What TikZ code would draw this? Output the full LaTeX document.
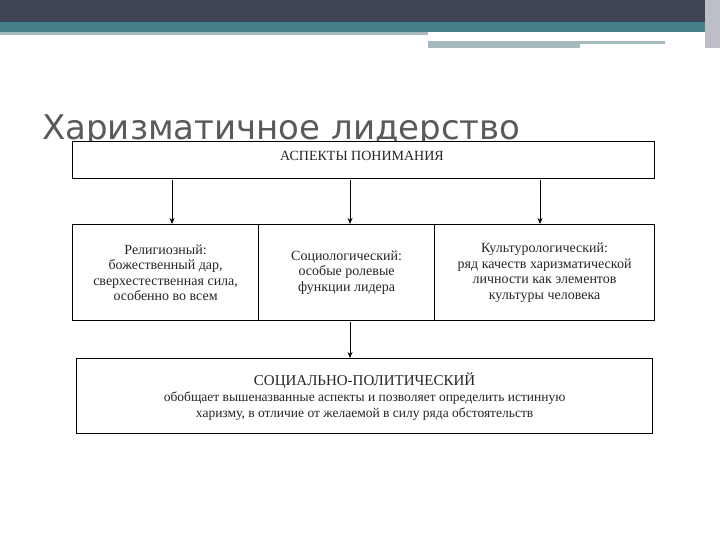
\documentclass[tikz,border=0pt]{standalone}
\usepackage{fontspec}
\usetikzlibrary{arrows.meta}
\setmainfont{Liberation Serif}
\newfontfamily\titlefont{DejaVu Sans}
\begin{document}
\begin{tikzpicture}[x=1pt,y=-1pt,
  box/.style={draw=black,line width=1.2pt,fill=white,inner sep=0pt},
  txt/.style={font=\fontsize{14}{15.5}\selectfont,align=center,text=black!85},
  arr/.style={-{Stealth[length=6pt,width=5pt]},line width=1pt}]
\useasboundingbox (0,0) rectangle (720,540);
\fill[white] (0,0) rectangle (720,540);
\fill[fill={rgb,255:red,63;green,68;blue,85}] (0,0) rectangle (720,22);
\fill[fill={rgb,255:red,70;green,128;blue,136}] (0,22) rectangle (705,32);
\fill[fill={rgb,255:red,165;green,185;blue,190}] (0,32) rectangle (428,35);
\fill[fill={rgb,255:red,165;green,185;blue,190}] (428,41) rectangle (665,44);
\fill[fill={rgb,255:red,165;green,185;blue,190}] (428,44) rectangle (580,48);
\fill[fill={rgb,255:red,190;green,190;blue,200}] (705,0) rectangle (720,48);
\node[anchor=base west,font=\titlefont\fontsize{34}{36}\selectfont,text={rgb,255:red,90;green,90;blue,90},inner sep=0pt] (title) at (42,140) {Харизматичное лидерство};
\node[box,minimum width=582pt,minimum height=37pt,anchor=north west] (top) at (72,141) {};
\node[txt,anchor=north] at (362,148) {АСПЕКТЫ ПОНИМАНИЯ};
\node[box,minimum width=186pt,minimum height=96pt,anchor=north west] (r) at (72,224) {};
\node[box,minimum width=176pt,minimum height=96pt,anchor=north west] (s) at (258,224) {};
\node[box,minimum width=220pt,minimum height=96pt,anchor=north west] (c) at (434,224) {};
\node[txt] at (r.center) {Религиозный:\\божественный дар,\\сверхестественная сила,\\особенно во всем};
\node[txt] at (s.center) {Социологический:\\особые ролевые\\функции лидера};
\node[txt] at (c.center) {Культурологический:\\ряд качеств харизматической\\личности как элементов\\культуры человека};
\node[box,minimum width=576pt,minimum height=75pt,anchor=north west] (b) at (76,358) {};
\node[txt,font=\fontsize{13.5}{16}\selectfont] at (b.center) {{\fontsize{15}{16}\selectfont СОЦИАЛЬНО-ПОЛИТИЧЕСКИЙ}\\обобщает вышеназванные аспекты и позволяет определить истинную\\харизму, в отличие от желаемой в силу ряда обстоятельств};
\coordinate (a1) at (172,180); \coordinate (a2) at (350,180); \coordinate (a3) at (540,180);
\coordinate (a4) at (350,322);
\draw[arr] (a1) -- (a1 |- r.north);
\draw[arr] (a2) -- (a2 |- s.north);
\draw[arr] (a3) -- (a3 |- c.north);
\draw[arr] (a4) -- (a4 |- b.north);
\end{tikzpicture}
\end{document}
